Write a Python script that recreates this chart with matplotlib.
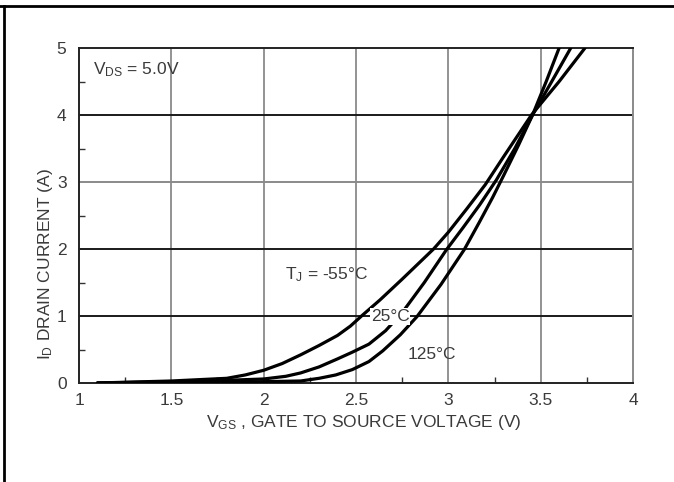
import matplotlib
matplotlib.use("Agg")
import matplotlib.pyplot as plt
from matplotlib.lines import Line2D
from matplotlib.ticker import MultipleLocator

plt.rcParams['font.family'] = ['Liberation Sans', 'DejaVu Sans']
plt.rcParams['mathtext.fontset'] = 'custom'
plt.rcParams['mathtext.rm'] = 'Liberation Sans'
plt.rcParams['mathtext.it'] = 'Liberation Sans'

# 读图得到的数据
vgs_m55 = [1.1, 1.5, 1.8, 1.9, 2.0, 2.1, 2.2, 2.3, 2.4, 2.47, 2.53, 2.63, 2.75, 2.92, 3.0, 3.1, 3.2, 3.3, 3.45, 3.6, 3.74]
id_m55 = [0.0, 0.03, 0.07, 0.12, 0.19, 0.29, 0.42, 0.56, 0.71, 0.85, 1.0, 1.24, 1.55, 2.0, 2.25, 2.6, 2.96, 3.38, 4.0, 4.5, 5.0]

vgs_25 = [1.1, 1.5, 1.8, 2.0, 2.12, 2.2, 2.3, 2.4, 2.48, 2.57, 2.66, 2.75, 2.87, 2.99, 3.08, 3.17, 3.26, 3.36, 3.456, 3.56, 3.663]
id_25 = [0.0, 0.02, 0.04, 0.06, 0.10, 0.15, 0.24, 0.36, 0.46, 0.58, 0.78, 1.05, 1.5, 1.99, 2.32, 2.66, 3.03, 3.5, 4.0, 4.5, 5.0]

vgs_125 = [1.1, 1.8, 2.0, 2.2, 2.3, 2.39, 2.48, 2.57, 2.645, 2.74, 2.83, 2.96, 3.086, 3.168, 3.24, 3.3, 3.38, 3.456, 3.53, 3.6]
id_125 = [0.0, 0.01, 0.02, 0.03, 0.07, 0.12, 0.2, 0.32, 0.48, 0.72, 0.99, 1.47, 1.99, 2.4, 2.77, 3.1, 3.55, 4.0, 4.5, 5.0]

x_ticks = [1, 1.5, 2, 2.5, 3, 3.5, 4]
x_tick_labels = ['1', '1.5', '2', '2.5', '3', '3.5', '4']
y_ticks = [0, 1, 2, 3, 4, 5]
y_tick_labels = ['0', '1', '2', '3', '4', '5']

txt_color = '#3a3a3a'
fs = 12.5

fig = plt.figure(figsize=(6.74, 4.82), dpi=100)
ax = fig.add_axes([79 / 674, 1 - 383 / 482, 554 / 674, 335 / 482])
ax.set_xlim(1, 4)
ax.set_ylim(0, 5)

# 网格线：竖线灰色，横线深色
for xv in x_ticks[1:-1]:
    ax.axvline(xv, color='#8a8a8a', lw=1.3, zorder=1)
for yv in y_ticks[1:-1]:
    c = '#8a8a8a' if yv == 3 else '#1a1a1a'
    ax.axhline(yv, color=c, lw=1.4, zorder=1)

for xs, ys in [(vgs_m55, id_m55), (vgs_25, id_25), (vgs_125, id_125)]:
    ax.plot(xs, ys, color='black', lw=2.3, solid_capstyle='round', zorder=3)

ax.set_xticks(x_ticks)
ax.set_xticklabels(x_tick_labels)
ax.set_yticks(y_ticks)
ax.set_yticklabels(y_tick_labels)
ax.xaxis.set_minor_locator(MultipleLocator(0.25))
ax.yaxis.set_minor_locator(MultipleLocator(0.5))
ax.tick_params(which='major', length=0, labelsize=fs, labelcolor=txt_color)
ax.tick_params(axis='x', which='major', pad=7)
ax.tick_params(axis='y', which='major', pad=9)
ax.tick_params(which='minor', direction='in', length=4, width=1, color='#333333',
               top=False, right=False)

for side in ['left', 'bottom', 'top']:
    ax.spines[side].set_color('#222222')
    ax.spines[side].set_linewidth(1.4)
ax.spines['right'].set_color('#8a8a8a')
ax.spines['right'].set_linewidth(1.4)

# 标注
ax.text(1.075, 4.67, r'V$_{\mathrm{DS}}$ = 5.0V', fontsize=fs, color=txt_color, va='center', ha='left')
ax.text(2.115, 1.62, r'T$_{\mathrm{J}}$ = -55°C', fontsize=fs, color=txt_color, va='center', ha='left')
ax.text(2.58, 0.99, '25°C', fontsize=fs, color=txt_color, va='center', ha='left',
        bbox=dict(facecolor='white', edgecolor='none', pad=0.5), zorder=4)
ax.text(2.78, 0.42, '125°C', fontsize=fs, color=txt_color, va='center', ha='left')

fig.text(206 / 674, 1 - 423 / 482, r'V$_{\mathrm{GS}}$ , GATE TO SOURCE VOLTAGE (V)', fontsize=fs,
         color=txt_color, va='center', ha='left')
fig.text(46 / 674, 1 - 264 / 482, r'I$_{\mathrm{D}}$ DRAIN CURRENT (A)', fontsize=fs, color=txt_color,
         va='center', ha='center', rotation=90)

# 外框（上、左）
fig.add_artist(Line2D([0, 1], [1 - 6 / 482, 1 - 6 / 482], transform=fig.transFigure, color='black', lw=2))
fig.add_artist(Line2D([3.5 / 674, 3.5 / 674], [0, 1 - 6 / 482], transform=fig.transFigure, color='black', lw=2))

fig.savefig('out.png', dpi=100)
